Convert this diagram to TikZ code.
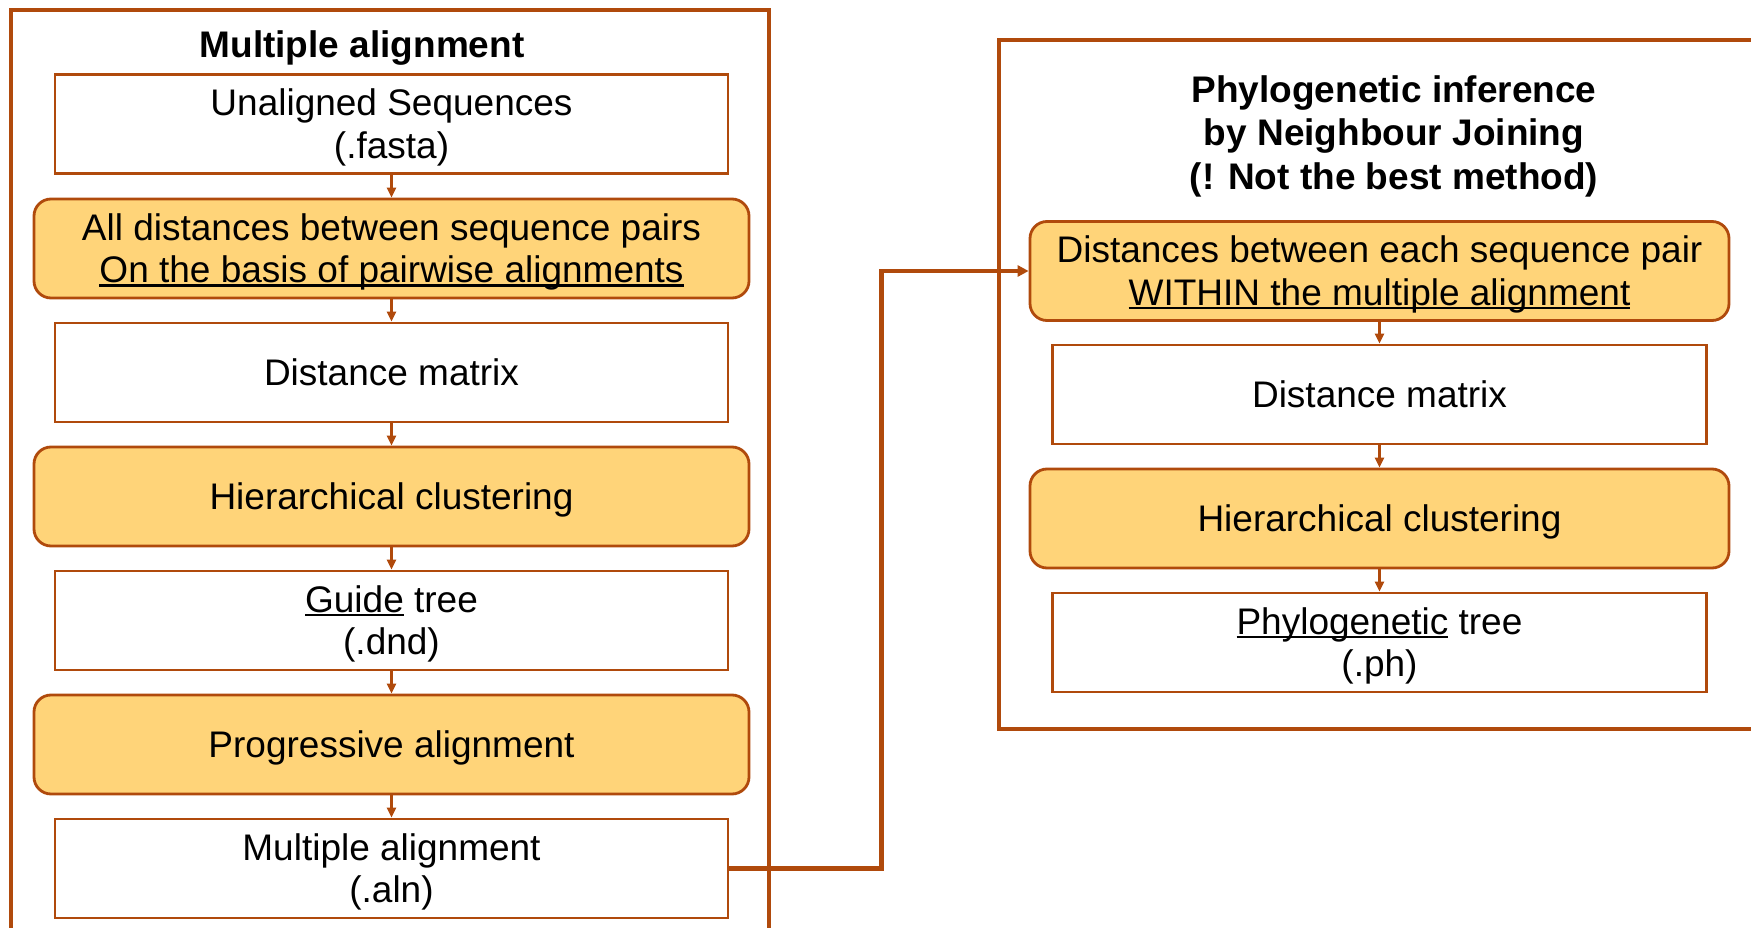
\documentclass[tikz,border=0pt]{standalone}
\usepackage{fontspec}
\setmainfont{Liberation Sans}
\usetikzlibrary{arrows.meta}
\definecolor{rust}{HTML}{B04A0C}
\definecolor{sand}{HTML}{FFD479}
% underline with a heavier rule that crosses the descenders
\newcommand{\undr}[1]{\setbox0\hbox{#1}\rlap{\rule[-4pt]{\wd0}{2.6pt}}\box0\relax}
% strut giving the first line the full ascent of the font
\newcommand{\ts}{\rule{0pt}{33.5pt}}
\begin{document}
\begin{tikzpicture}[x=1pt,y=-1pt,
  every node/.style={font=\fontsize{37}{42.5}\selectfont, align=center, inner sep=0pt,
    execute at end node={\rule[-7pt]{0pt}{7pt}}},
  plainbox/.style={draw=rust, line width=2.8pt, fill=white, minimum height=99pt},
  stagebox/.style={draw=rust, line width=2.8pt, fill=sand, rounded corners=17pt, minimum height=99pt},
  frame/.style={draw=rust, line width=4.5pt},
  flow/.style={draw=rust, line width=3pt, -{Triangle[length=10pt,width=9pt]}},
  link/.style={draw=rust, line width=4.5pt, -{Triangle[length=11pt,width=11pt]}},
  heading/.style={font=\bfseries\fontsize{37}{43.5}\selectfont}]
\useasboundingbox (0,0) rectangle (1751,928);
\clip (0,0) rectangle (1751,928);

% outer frames
\draw[frame] (11,10) rectangle (769,960);
\draw[frame] (999,40) rectangle (1790,729);

% left column: multiple alignment
\node[heading] (lt) at (362,45) {\ts Multiple alignment};
\node[plainbox, minimum width=673pt] (a1) at (391.5,124) {\ts Unaligned Sequences\\(.fasta)};
\node[stagebox, minimum width=715pt] (a2) at (391.5,248.5) {\ts All distances between sequence pairs\\\undr{On the basis of pairwise alignments}};
\node[plainbox, minimum width=673pt] (a3) at (391.5,372.5) {\ts Distance matrix};
\node[stagebox, minimum width=715pt] (a4) at (391.5,496.5) {\ts Hierarchical clustering};
\node[plainbox, minimum width=673pt] (a5) at (391.5,620.5) {\ts\undr{Guide} tree\\(.dnd)};
\node[stagebox, minimum width=715pt] (a6) at (391.5,744.5) {\ts Progressive alignment};
\node[plainbox, minimum width=673pt] (a7) at (391.5,868.5) {\ts Multiple alignment\\(.aln)};

\foreach \s/\t in {a1/a2,a2/a3,a3/a4,a4/a5,a5/a6,a6/a7}
  \draw[flow] (\s.south) -- (\t.north);

% right column: phylogenetic inference
\node[heading] (rt) at (1394,133) {\ts Phylogenetic inference\\by Neighbour Joining\\(! Not the best method)};
\node[stagebox, minimum width=699pt] (r1) at (1379.5,271) {\ts Distances between each sequence pair\\\undr{WITHIN the multiple alignment}};
\node[plainbox, minimum width=654pt] (r2) at (1379.5,394.5) {\ts Distance matrix};
\node[stagebox, minimum width=699pt] (r3) at (1379.5,518.5) {\ts Hierarchical clustering};
\node[plainbox, minimum width=654pt] (r4) at (1379.5,642.5) {\ts\undr{Phylogenetic} tree\\(.ph)};

\foreach \s/\t in {r1/r2,r2/r3,r3/r4}
  \draw[flow] (\s.south) -- (\t.north);

% hand-over from the alignment to the tree building
\draw[link] (a7.east) -- ++(152,0) |- (r1.west);
\end{tikzpicture}
\end{document}
